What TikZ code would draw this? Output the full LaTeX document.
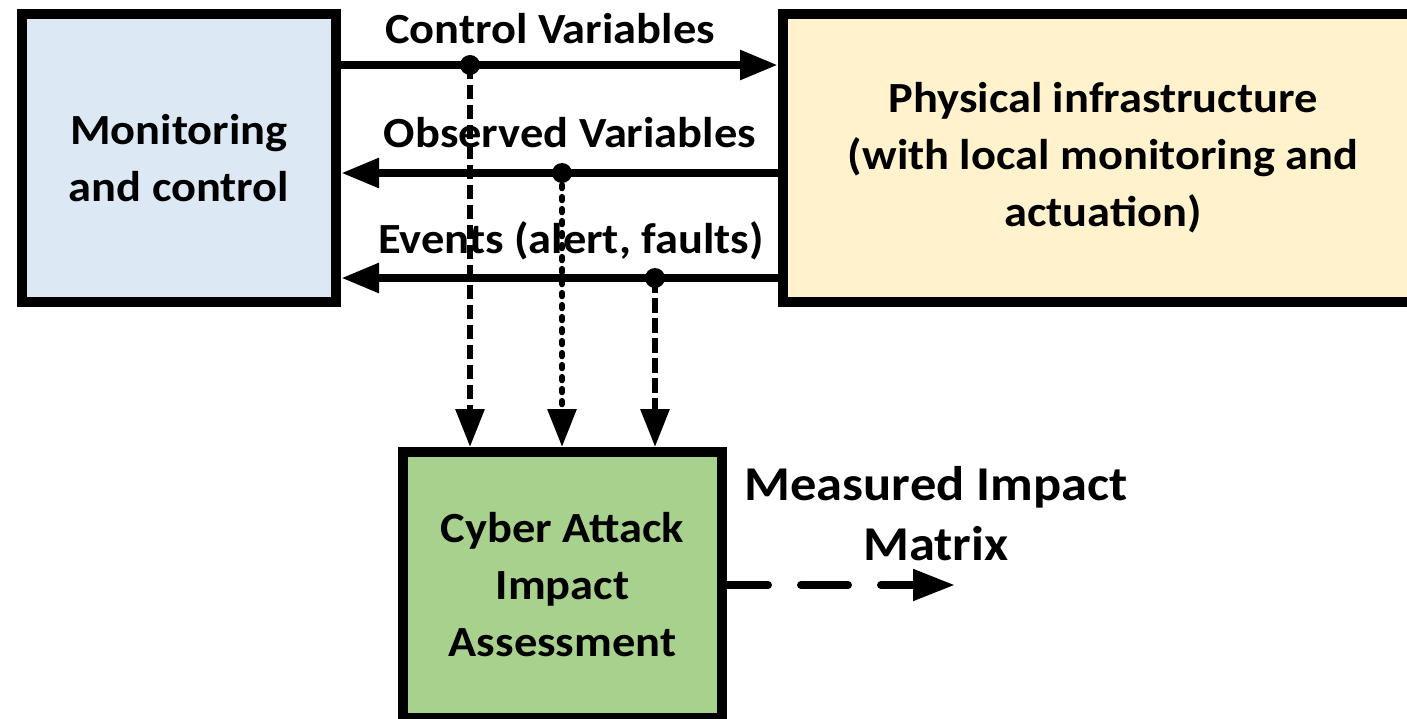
\documentclass[tikz,border=0pt]{standalone}
\usepackage{fontspec}
\setmainfont{Carlito}[FakeStretch=1.08]
\usetikzlibrary{arrows.meta}
\definecolor{mcblue}{HTML}{DDE8F5}
\definecolor{piyellow}{HTML}{FFF2CC}
\definecolor{cagreen}{HTML}{A9D18E}
\tikzset{
  blockbox/.style={draw=black, line width=5pt, align=center, inner sep=0pt,
    font=\bfseries\fontsize{21.5}{28.5}\selectfont},
  mainflow/.style={line width=4.25pt, -{Triangle[length=19pt,width=14pt]}},
  tapdot/.style={circle, fill=black, inner sep=0pt, minimum size=10pt},
  taplabel/.style={anchor=base, font=\bfseries\fontsize{21.5}{28.5}\selectfont},
  tapline/.style={line width=3.1pt, -{Triangle[length=19pt,width=14pt]}},
  dashA/.style={dash pattern=on 7pt off 3pt},
  dotB/.style={line cap=round, dash pattern=on 1.6pt off 4.4pt},
  dashC/.style={dash pattern=on 7.5pt off 2.5pt},
  outflow/.style={line width=4pt, line cap=round, dash pattern=on 23.5pt off 16.5pt, dash phase=3pt,
    -{Triangle[length=21pt,width=15pt,line cap=butt,line join=miter]}}
}
\begin{document}
\begin{tikzpicture}[x=0.5pt,y=-0.5pt]
\useasboundingbox (0,0) rectangle (1407,718);
% blocks
\node[blockbox, fill=mcblue, minimum width=157pt, minimum height=144pt] (mc) at (179,158)
  {Monitoring\\and control};
\node[blockbox, fill=piyellow, minimum width=320pt, minimum height=144pt] (pi) at (1103,158)
  {Physical infrastructure\\(with local monitoring and\\actuation)};
\node[blockbox, fill=cagreen, minimum width=159.5pt, minimum height=133pt] (ca) at (562.5,585)
  {Cyber Attack\\Impact\\Assessment};
% tap points
\coordinate (cv) at (470,65);
\coordinate (ov) at (562,173);
\coordinate (ev) at (655,278);
% labels
\node[taplabel] (cvl) at (550,43) {Control Variables};
\node[taplabel] (ovl) at (570,147) {Observed Variables};
\node[taplabel] (evl) at (571,253) {Events (alert, faults)};
\node[anchor=base, align=center, font=\bfseries\fontsize{24.3}{30}\selectfont] (mim) at (936,560)
  {Measured Impact\\Matrix};
% main flows
\draw[mainflow] (mc.east |- cv) -- (pi.west |- cv);
\draw[mainflow] (pi.west |- ov) -- (mc.east |- ov);
\draw[mainflow] (pi.west |- ev) -- (mc.east |- ev);
% taps
\draw[tapline, dashA] (cv) -- (ca.north -| cv);
\draw[tapline, dotB] (ov) -- (ca.north -| ov);
\draw[tapline, dashC] (ev) -- (ca.north -| ev);
\node[tapdot] (cvd) at (cv) {};
\node[tapdot] (ovd) at (ov) {};
\node[tapdot] (evd) at (ev) {};
% output
\coordinate (outend) at (955,585);
\draw[outflow] (ca.east) -- (outend);
\end{tikzpicture}
\end{document}
